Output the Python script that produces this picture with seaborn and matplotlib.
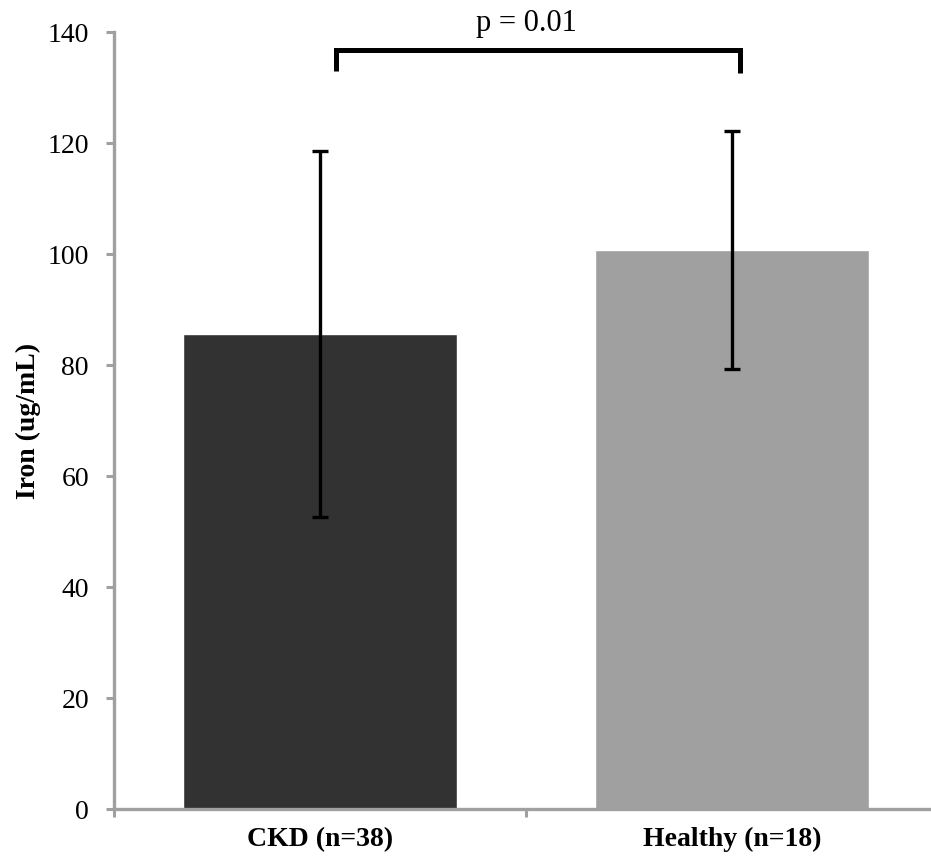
import matplotlib
matplotlib.use("Agg")
import matplotlib.pyplot as plt
import seaborn as sns
import pandas as pd
import numpy as np

# Serum iron by group
groups = ["CKD (n=38)", "Healthy (n=18)"]
iron_mean = [85.6, 100.7]
iron_sd = [33.0, 21.5]
bar_colors = ["#323232", "#a0a0a0"]
y_ticks = [0, 20, 40, 60, 80, 100, 120, 140]
p_label = "p = 0.01"

sns.set_theme(style="white")
plt.rcParams["font.family"] = ["Liberation Serif", "DejaVu Serif"]
plt.rcParams["text.color"] = "black"
plt.rcParams["axes.labelcolor"] = "black"
plt.rcParams["xtick.labelcolor"] = "black"
plt.rcParams["ytick.labelcolor"] = "black"

df = pd.DataFrame({"group": groups, "iron": iron_mean})

fig = plt.figure(figsize=(9.31, 8.63), dpi=100)
W, H = 931, 863
ax = fig.add_axes([114 / W, 1 - 809 / H, (938 - 114) / W, (809 - 32) / H])

sns.barplot(data=df, x="group", y="iron", hue="group", palette=bar_colors,
            width=0.667, legend=False, ax=ax, saturation=1)
ax.errorbar(np.arange(len(groups)), iron_mean, yerr=iron_sd, fmt="none",
            ecolor="black", elinewidth=2.4, capsize=6, capthick=2.4, zorder=5)

ax.set_xlim(-0.5, 1.5)
ax.set_ylim(0, 140)
ax.set_yticks(y_ticks)

axis_gray = "#a0a0a0"
for side in ["top", "right"]:
    ax.spines[side].set_visible(False)
for side in ["left", "bottom"]:
    ax.spines[side].set_color(axis_gray)
    ax.spines[side].set_linewidth(2.4)

ax.tick_params(axis="y", which="major", direction="out", length=6, width=2.2,
               color=axis_gray, labelsize=20, pad=12, left=True,
               labelcolor="black")
ax.tick_params(axis="x", which="major", length=0, pad=13, labelsize=20,
               labelcolor="black")
ax.set_xticks([-0.5, 0.5, 1.5], minor=True)
ax.tick_params(axis="x", which="minor", direction="out", length=6, width=2.2,
               color=axis_gray, bottom=True)
for lbl in ax.get_xticklabels():
    lbl.set_fontweight("bold")

ax.set_xlabel("")
ax.set_ylabel("Iron (ug/mL)", fontsize=20, fontweight="bold", labelpad=5,
              color="black")

# significance bracket
bx0, bx1 = 0.04, 1.02
by, bdrop = 136.8, 3.8
ax.plot([bx0, bx0, bx1, bx1], [by - bdrop, by, by, by - bdrop - 0.3],
        color="black", lw=3.6, solid_capstyle="butt", solid_joinstyle="miter",
        clip_on=False, zorder=6)
ax.text(0.5, 141.6, p_label, ha="center", va="center", fontsize=22,
        color="black", clip_on=False)

fig.savefig("out.png", dpi=100)
